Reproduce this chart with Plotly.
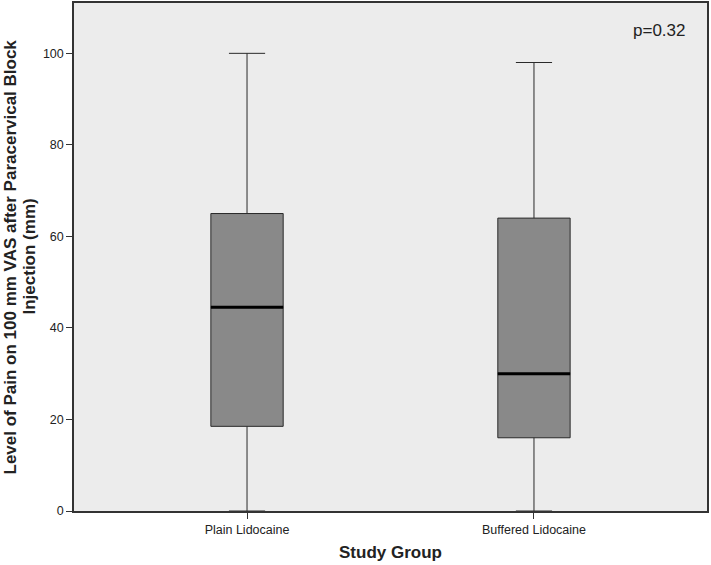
import plotly.graph_objects as go

groups = ["Plain Lidocaine", "Buffered Lidocaine"]
mins = [0, 0]
q1s = [18.5, 16]
medians = [44.5, 30]
q3s = [65, 64]
maxs = [100, 98]
y_ticks = [0, 20, 40, 60, 80, 100]
p_text = "p=0.32"
y_title_lines = ["Level of Pain on 100 mm VAS after Paracervical Block", "Injection (mm)"]

BOX_W = 0.252
FONT = "Liberation Sans, Arial, sans-serif"

fig = go.Figure()
fig.add_trace(go.Box(
    x=groups, q1=q1s, median=medians, q3=q3s,
    lowerfence=mins, upperfence=maxs,
    fillcolor="#898989", line=dict(color="#2a2a2a", width=1),
    width=BOX_W, whiskerwidth=0.5, boxpoints=False, showlegend=False,
    hoverinfo="skip"))

shapes = []
for i, m in enumerate(medians):
    shapes.append(dict(type="line", xref="x", yref="y",
                       x0=i - BOX_W / 2, x1=i + BOX_W / 2, y0=m, y1=m,
                       line=dict(color="black", width=3)))
fig.update_layout(shapes=shapes)

fig.add_annotation(text=p_text, xref="paper", yref="paper", x=0.968, y=0.946,
                   xanchor="right", yanchor="middle", showarrow=False,
                   font=dict(family=FONT, size=17, color="#222"))

for line_text, shift in zip(y_title_lines, [-64.5, -45.5]):
    fig.add_annotation(text="<b>" + line_text + "</b>", xref="paper", yref="paper",
                       x=0, y=0.5, xshift=shift, xanchor="center", yanchor="middle",
                       textangle=-90, showarrow=False,
                       font=dict(family=FONT, size=17, color="#222"))

fig.update_layout(
    width=711, height=565,
    margin=dict(l=74, r=4, t=3, b=54),
    paper_bgcolor="white", plot_bgcolor="#ECECEC",
    font=dict(family=FONT, color="#222"),
    xaxis=dict(type="category", range=[-0.603, 1.603], automargin=False,
               showline=True, linecolor="#333", linewidth=1.5, mirror=True,
               ticks="outside", ticklen=6, tickcolor="#333", tickwidth=1,
               tickfont=dict(family=FONT, size=12.5, color="#222"),
               showgrid=False, zeroline=False,
               title=dict(text="<b>Study Group</b>", font=dict(family=FONT, size=17, color="#222"), standoff=10)),
    yaxis=dict(range=[0, 111], tickvals=y_ticks, automargin=False,
               showline=True, linecolor="#333", linewidth=1.5, mirror=True,
               ticks="outside", ticklen=6, tickcolor="#333", tickwidth=1,
               tickfont=dict(family=FONT, size=12.5, color="#222"),
               showgrid=False, zeroline=False),
)

fig.write_html("out.html", config={"displayModeBar": False},
               post_script="document.body.style.margin='0';document.body.style.overflow='hidden';")
